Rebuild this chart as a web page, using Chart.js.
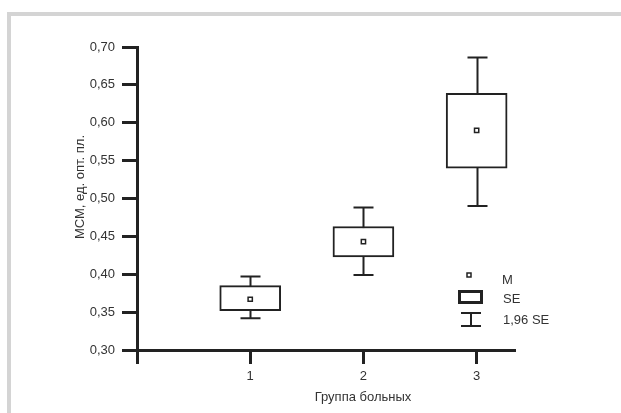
<!DOCTYPE html>
<html>
<head>
<meta charset="utf-8">
<script src="https://cdn.jsdelivr.net/npm/chart.js@4.4.1/dist/chart.umd.min.js"></script>
<style>
  html, body { margin: 0; padding: 0; background: #ffffff; }
  #wrap { position: relative; width: 621px; height: 413px; overflow: hidden; background: #fff; }
  #frame { position: absolute; left: 7px; top: 12px; width: 700px; height: 500px;
           border-top: 4px solid #d4d4d4; border-left: 4px solid #d4d4d4; }
  canvas { position: absolute; left: 0; top: 0; }
</style>
</head>
<body>
<div id="wrap">
  <div id="frame"></div>
  <canvas id="c" width="621" height="413"></canvas>
</div>
<script>
// ---- data ----
const groups      = [1, 2, 3];
const whiskerLow  = [0.342, 0.399, 0.490];
const boxLow      = [0.352, 0.423, 0.540];
const means       = [0.367, 0.443, 0.590];
const boxHigh     = [0.385, 0.463, 0.639];
const whiskerHigh = [0.397, 0.488, 0.686];
const yTickValues = [0.30, 0.35, 0.40, 0.45, 0.50, 0.55, 0.60, 0.65, 0.70];
const xTickValues = [0, 1, 2, 3];
const xTickLabels = ['', '1', '2', '3'];
const yTitle = 'МСМ, ед. опт. пл.';
const xTitle = 'Группа больных';
const legendLabels = ['M', 'SE', '1,96 SE'];

const INK = '#222222';
const TXT = '#333333';
const FONT = '"Liberation Sans", Arial, sans-serif';

const whiskerPlugin = {
  id: 'whiskers',
  beforeDatasetsDraw(chart) {
    const {ctx, scales: {x, y}} = chart;
    ctx.save();
    ctx.strokeStyle = INK;
    ctx.lineWidth = 2;
    groups.forEach((g, i) => {
      const px = Math.round(x.getPixelForValue(g)) + 0.5;
      const yl = y.getPixelForValue(whiskerLow[i]);
      const yh = y.getPixelForValue(whiskerHigh[i]);
      ctx.beginPath();
      ctx.moveTo(px, yl); ctx.lineTo(px, yh);
      ctx.moveTo(px - 10, yl); ctx.lineTo(px + 10, yl);
      ctx.moveTo(px - 10, yh); ctx.lineTo(px + 10, yh);
      ctx.stroke();
    });
    ctx.restore();
  },
  afterDraw(chart) {
    const {ctx} = chart;
    ctx.save();
    // axis titles
    ctx.fillStyle = TXT;
    ctx.font = '13px ' + FONT;
    ctx.textAlign = 'center';
    ctx.textBaseline = 'middle';
    ctx.fillText(xTitle, 363, 397);
    ctx.save();
    ctx.translate(80, 187);
    ctx.rotate(-Math.PI / 2);
    ctx.fillText(yTitle, 0, 0);
    ctx.restore();
    // legend
    ctx.strokeStyle = INK;
    ctx.fillStyle = '#fff';
    ctx.lineWidth = 1.5;
    ctx.strokeRect(467, 273, 4, 4);
    ctx.lineWidth = 3;
    ctx.strokeRect(459.5, 291.5, 22, 11);
    ctx.lineWidth = 2;
    ctx.beginPath();
    ctx.moveTo(461, 313); ctx.lineTo(481, 313);
    ctx.moveTo(471, 313); ctx.lineTo(471, 326);
    ctx.moveTo(461, 326); ctx.lineTo(481, 326);
    ctx.stroke();
    ctx.fillStyle = TXT;
    ctx.textAlign = 'left';
    ctx.fillText(legendLabels[0], 502, 280);
    ctx.fillText(legendLabels[1], 503, 299);
    ctx.fillText(legendLabels[2], 503, 320);
    ctx.restore();
  }
};

new Chart(document.getElementById('c'), {
  type: 'bar',
  data: {
    datasets: [
      {
        type: 'bar',
        data: groups.map((g, i) => ({x: g, y: [boxLow[i], boxHigh[i]]})),
        backgroundColor: '#ffffff',
        borderColor: INK,
        borderWidth: 2,
        borderSkipped: false,
        barThickness: 61,
        order: 2
      },
      {
        type: 'scatter',
        data: groups.map((g, i) => ({x: g, y: means[i]})),
        pointStyle: 'rect',
        pointRadius: 3,
        backgroundColor: '#ffffff',
        borderColor: INK,
        borderWidth: 1.5,
        order: 1
      }
    ]
  },
  options: {
    responsive: false,
    animation: false,
    devicePixelRatio: 1,
    layout: { padding: { top: 47, right: 107, bottom: 0, left: 0 } },
    plugins: { legend: { display: false }, tooltip: { enabled: false } },
    scales: {
      x: {
        type: 'linear',
        min: 0, max: 3.33,
        offset: false,
        afterBuildTicks(s) { s.ticks = xTickValues.map(v => ({value: v})); },
        afterFit(s) { s.height = 63; },
        ticks: {
          callback: (v) => xTickLabels[xTickValues.indexOf(v)],
          color: TXT, font: { size: 13, family: FONT }, padding: 5,
          maxRotation: 0, autoSkip: false
        },
        grid: { drawOnChartArea: false, offset: false, color: INK, lineWidth: 3, tickLength: 14, tickWidth: 3, tickColor: INK },
        border: { color: INK, width: 3 }
      },
      y: {
        min: 0.30, max: 0.70,
        afterBuildTicks(s) { s.ticks = yTickValues.map(v => ({value: v})); },
        afterFit(s) { s.width = 137; },
        ticks: {
          callback: (v) => Number(v).toFixed(2).replace('.', ','),
          color: TXT, font: { size: 13, family: FONT }, padding: 7
        },
        grid: { drawOnChartArea: false, color: INK, lineWidth: 3, tickLength: 15, tickWidth: 3, tickColor: INK },
        border: { color: INK, width: 3 }
      }
    }
  },
  plugins: [whiskerPlugin]
});
</script>
</body>
</html>
